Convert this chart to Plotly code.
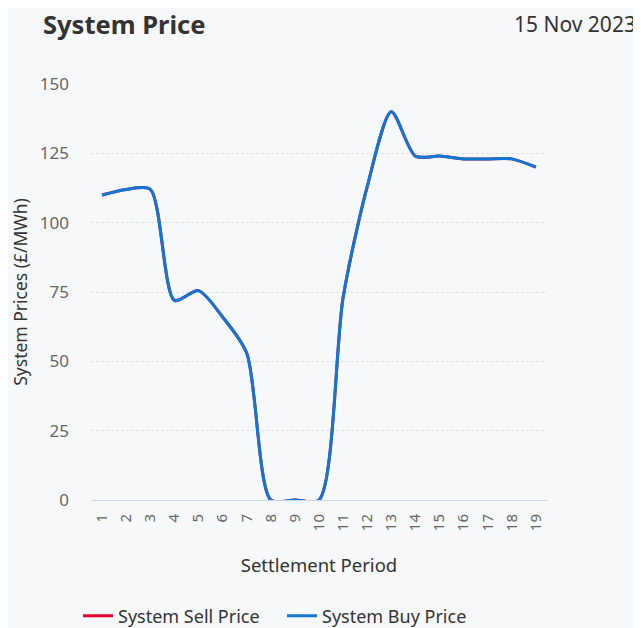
import plotly.graph_objects as go

periods = list(range(1, 20))
tick_labels = [str(p) for p in periods]
buy_price = [110, 112, 112, 72, 75.5, 66, 53, 0, 0, 0, 73, 113, 140, 124, 124, 123, 123, 123, 120]
sell_price = [110, 112, 112, 72, 75.5, 66, 53, 0, 0, 0, 73, 113, 140, 124, 124, 123, 123, 123, 120]
y_ticks = [0, 25, 50, 75, 100, 125, 150]

FONT = "Noto Sans"
BG = "#f7f8fa"
OFF = 8  # default body margin of the html page

# pad single-digit labels so that rotated labels share a common baseline
padded = [("\u2007" + t) if len(t) == 1 else t for t in tick_labels]

fig = go.Figure()
fig.add_trace(go.Scatter(
    x=periods, y=sell_price, name="System Sell Price", mode="lines",
    line=dict(color="#e4002b", width=3, shape="spline", smoothing=0.75),
))
fig.add_trace(go.Scatter(
    x=periods, y=buy_price, name="System Buy Price", mode="lines",
    line=dict(color="#0f78d6", width=3, shape="spline", smoothing=0.75),
))

W, H = 641 - OFF, 628 - OFF
PW, PH = 456, 416
fig.update_layout(
    width=W, height=H,
    paper_bgcolor=BG, plot_bgcolor=BG,
    margin=dict(l=91 - OFF, r=94, t=84 - OFF, b=128, pad=0, autoexpand=False),
    font=dict(family=FONT, color="#333333"),
    showlegend=True,
    legend=dict(
        orientation="h", x=(83 - 5 - 91) / PW, xanchor="left",
        y=-(616 - 500) / PH, yanchor="middle",
        font=dict(size=18, color="#333333"),
        entrywidth=159, entrywidthmode="pixels",
        bgcolor="rgba(0,0,0,0)",
    ),
    annotations=[
        dict(text="<b>System Price</b>", xref="paper", yref="paper",
             x=(41 - 91) / PW, y=1 + (84 - 24) / PH, xanchor="left", yanchor="middle",
             showarrow=False, font=dict(size=25.5, color="#333333", family=FONT)),
        dict(text="15 Nov 2023", xref="paper", yref="paper",
             x=(638 - 91) / PW, y=1 + (84 - 24) / PH, xanchor="right", yanchor="middle",
             showarrow=False, font=dict(size=21, color="#333333", family=FONT)),
    ],
)

fig.update_xaxes(
    range=[0.54, 19.46],
    tickmode="array", tickvals=periods, ticktext=padded,
    tickangle=-90, tickfont=dict(size=15, color="#666666"),
    showgrid=False, zeroline=False,
    showline=True, linecolor="#ccd6eb", linewidth=1,
    ticks="", ticklabelstandoff=7, automargin=False,
    title=dict(text="Settlement Period", font=dict(size=18.5, color="#333333"), standoff=28),
)
fig.update_yaxes(
    range=[0, 150],
    tickmode="array", tickvals=y_ticks,
    tickfont=dict(size=17, color="#666666"),
    showgrid=True, gridcolor="#e0e0e0", griddash="3px,2px", gridwidth=1,
    zeroline=False, showline=False, ticks="", ticklabelstandoff=21, automargin=False,
    title=dict(text="System Prices (£/MWh)", font=dict(size=17.5, color="#333333"), standoff=16),
)

fig.write_html("out.html")
